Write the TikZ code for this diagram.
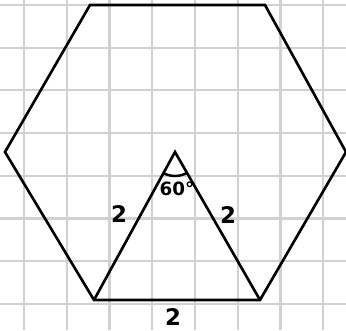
\documentclass[tikz,border=0pt]{standalone}
\usepackage{fontspec}
\setsansfont{DejaVu Sans}
\begin{document}
\begin{tikzpicture}[x=0.01cm, y=-0.01cm,
  every node/.style={font=\sffamily\bfseries\fontsize{6.5}{7}\selectfont},
  gridline/.style={draw=black!18,line width=0.6pt},
  edge/.style={draw,line width=0.75pt,line join=miter}]
\useasboundingbox (0,0) rectangle (346,330);
% squared paper
\foreach \k in {0,...,7} {
  \draw[gridline] ({24+42.75*\k},0) -- ({24+42.75*\k},330);
  \draw[gridline] (0,{5+42.7*\k}) -- (346,{5+42.7*\k});
}
% hexagon corners and centre
\coordinate (tl) at (90,5);
\coordinate (tr) at (265,5);
\coordinate (r) at (346,152);
\coordinate (br) at (260,300);
\coordinate (bl) at (94,300);
\coordinate (l) at (5,152);
\coordinate (ctr) at (175,152);
\draw[edge] (tl) -- (tr) -- (r) -- (br) -- (bl) -- (l) -- cycle;
\draw[edge] (bl) -- (ctr) -- (br);
\draw[line width=0.7pt] ([shift={(120:24)}]ctr) arc[start angle=120,end angle=60,radius=24];
\node[font=\sffamily\bfseries\fontsize{5.2}{6}\selectfont] (ang) at (177,189) {60°};
\node (sl) at (119,214) {2};
\node (sr) at (228,215) {2};
\node (sb) at (173,317) {2};
\end{tikzpicture}
\end{document}
